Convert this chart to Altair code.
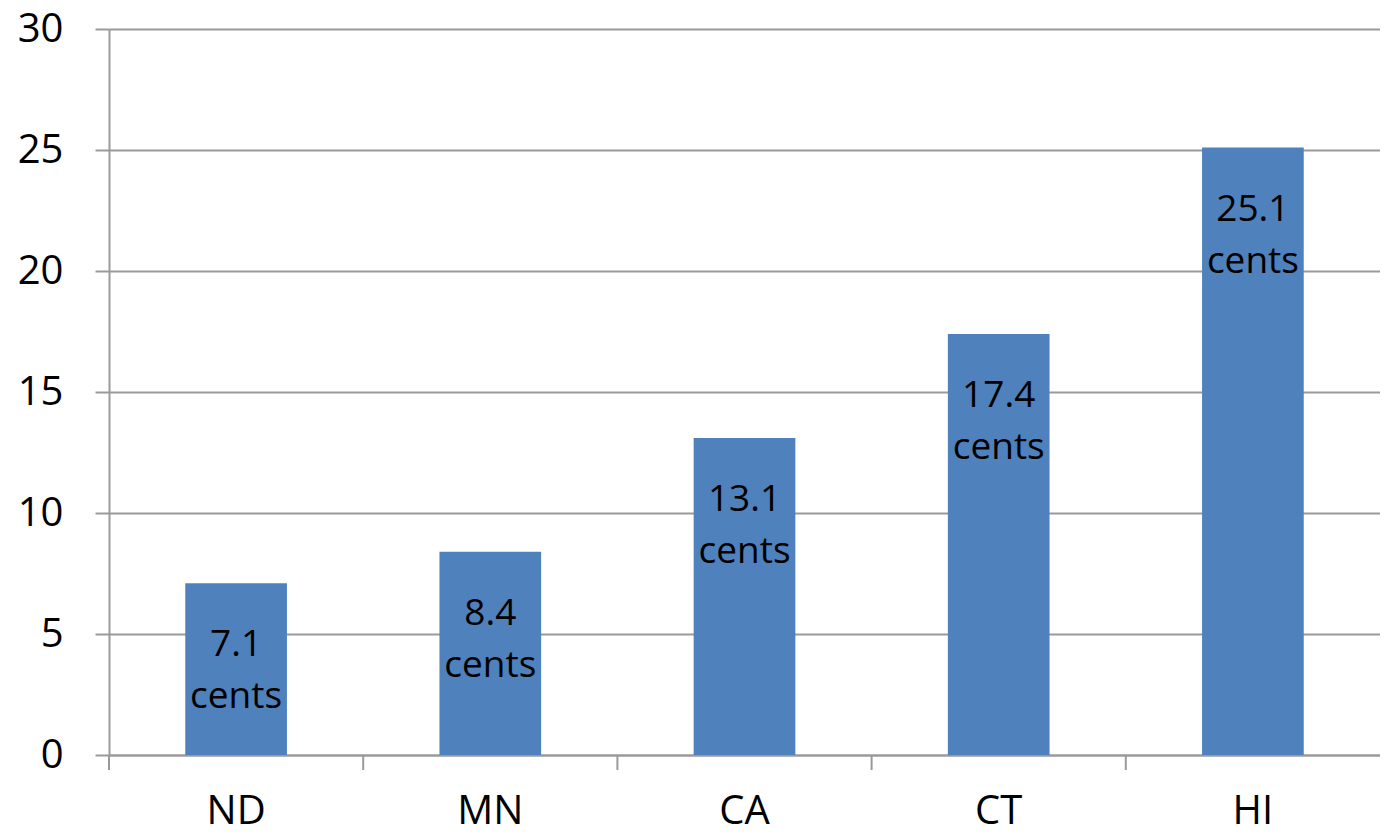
import altair as alt
import pandas as pd

states = ["ND", "MN", "CA", "CT", "HI"]
cents = [7.1, 8.4, 13.1, 17.4, 25.1]
y_ticks = [0, 5, 10, 15, 20, 25, 30]

df = pd.DataFrame({"state": states, "cents": cents})
df["label"] = [f"{v}\ncents" for v in cents]

W, H = 1271, 726
FONT = "Open Sans"
GRAY = "#9a9a9a"
BLUE = "#4F81BD"

x_enc = alt.X(
    "state:N", sort=states,
    scale=alt.Scale(paddingInner=0, paddingOuter=0),
    axis=alt.Axis(title=None, ticks=False, labelAngle=0, labelFontSize=40,
                  labelFont=FONT, labelColor="black", labelPadding=36,
                  domainColor=GRAY, domainWidth=2, grid=False),
)
y_enc = alt.Y(
    "cents:Q",
    scale=alt.Scale(domain=[0, 30], nice=False),
    axis=alt.Axis(title=None, values=y_ticks, tickSize=14, tickColor=GRAY,
                  tickWidth=2, labelFontSize=40, labelFont=FONT,
                  labelColor="black", labelPadding=32, domainColor=GRAY,
                  domainWidth=2, gridColor=GRAY, gridWidth=2),
)

bars = alt.Chart(df).mark_bar(width=alt.RelativeBandSize(0.4), color=BLUE).encode(
    x=x_enc, y=y_enc
)

ticks = alt.Chart(df).mark_rule(color=GRAY, strokeWidth=2).encode(
    x=alt.X("state:N", sort=states, bandPosition=0),
    y=alt.value(H),
    y2=alt.value(H + 15),
)

labels = alt.Chart(df).mark_text(
    font=FONT, fontSize=37, color="black", lineBreak="\n",
    lineHeight=52, baseline="middle", align="center", dy=62,
).encode(
    x=alt.X("state:N", sort=states),
    y=alt.Y("cents:Q"),
    text="label:N",
)

chart = alt.layer(bars, ticks, labels).properties(
    width=W, height=H,
    autosize=alt.AutoSizeParams(type="none"),
    padding={"left": 101, "top": 21, "right": 0, "bottom": 74},
).configure_view(stroke=None).configure(background="white")

chart.save("out.html", embed_options={"renderer": "svg", "actions": False})
